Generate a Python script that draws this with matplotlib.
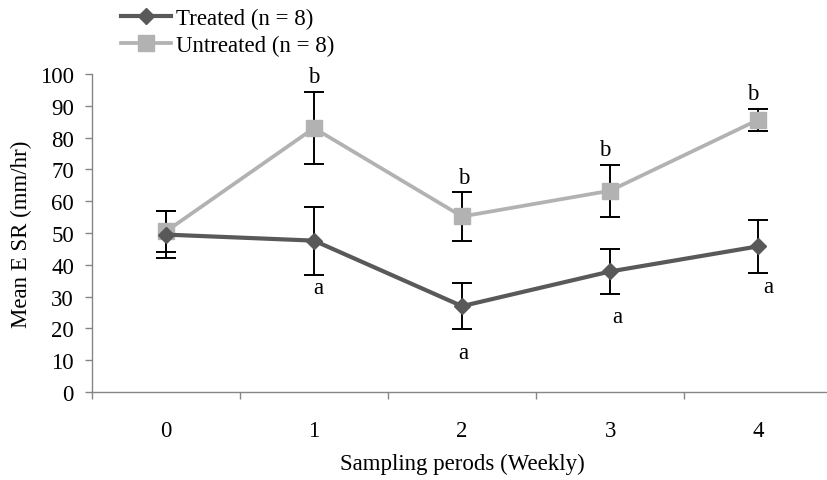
import matplotlib.pyplot as plt
import numpy as np

plt.rcParams["font.family"] = ["Liberation Serif", "DejaVu Serif"]

weeks = ["0", "1", "2", "3", "4"]

treated_mean = [49.5, 47.6, 27.0, 37.9, 45.8]
treated_err = [7.5, 10.7, 7.2, 7.1, 8.3]

untreated_mean = [50.5, 83.0, 55.2, 63.3, 85.6]
untreated_err = [6.5, 11.3, 7.6, 8.2, 3.5]

# significance letters (week index -> letter), drawn above / below the bars
untreated_letters = ["", "b", "b", "b", "b"]
treated_letters = ["", "a", "a", "a", "a"]

DARK = "#595959"
LIGHT = "#b2b2b2"
FS = 16.5

fig = plt.figure(figsize=(8.27, 4.81), dpi=100)
ax = fig.add_axes([0.1112, 0.183, 0.895, 0.661])

x = np.arange(len(weeks))

ax.errorbar(x, treated_mean, yerr=treated_err, fmt="none", ecolor="black",
            elinewidth=1.4, capsize=7, capthick=1.4, zorder=1)
ax.errorbar(x, untreated_mean, yerr=untreated_err, fmt="none", ecolor="black",
            elinewidth=1.4, capsize=7, capthick=1.4, zorder=1)

ax.plot(x, treated_mean, color=DARK, lw=3, marker="D", ms=8.5,
        label="Treated (n = 8)", zorder=3)
ax.plot(x, untreated_mean, color=LIGHT, lw=2.7, marker="s", ms=12,
        label="Untreated (n = 8)", zorder=2)

# letter offsets in points (hand placed like the original)
b_dx = [0, 0, 1, -4, -4]
a_dx = [0, 3, 1, 5, 7]
a_dy = [0, -9, -17, -16, -10]
for i in x:
    if untreated_letters[i]:
        ax.annotate(untreated_letters[i], (i, untreated_mean[i] + untreated_err[i]),
                    xytext=(b_dx[i], 11), textcoords="offset points",
                    ha="center", va="center", fontsize=FS)
    if treated_letters[i]:
        ax.annotate(treated_letters[i], (i, treated_mean[i] - treated_err[i]),
                    xytext=(a_dx[i], a_dy[i]), textcoords="offset points",
                    ha="center", va="center", fontsize=FS)

ax.set_xlim(-0.5, 4.5)
ax.set_ylim(0, 100)
ax.set_yticks(range(0, 101, 10))
ax.set_xticks(np.arange(-0.5, 5.0, 1.0))
ax.set_xticklabels([])
ax.set_xticks(x, minor=True)
ax.set_xticklabels(weeks, minor=True)

ax.tick_params(axis="y", which="major", length=5, width=1, color="#868686",
               labelsize=FS, pad=8)
ax.tick_params(axis="x", which="major", length=5, width=1, color="#868686")
ax.tick_params(axis="x", which="minor", length=0, labelsize=FS, pad=20)

for side in ("top", "right"):
    ax.spines[side].set_visible(False)
for side in ("left", "bottom"):
    ax.spines[side].set_color("#868686")
    ax.spines[side].set_linewidth(1)

ax.set_ylabel("Mean E SR (mm/hr)", fontsize=FS, labelpad=6)
ax.set_xlabel("Sampling perods (Weekly)", fontsize=FS, labelpad=9)

fig.legend(loc="upper left", bbox_to_anchor=(0.135, 1.0), frameon=False,
           fontsize=FS, handlelength=2.2, handletextpad=0.2, labelspacing=0.25,
           borderaxespad=0)

fig.savefig("out.png", dpi=100)
